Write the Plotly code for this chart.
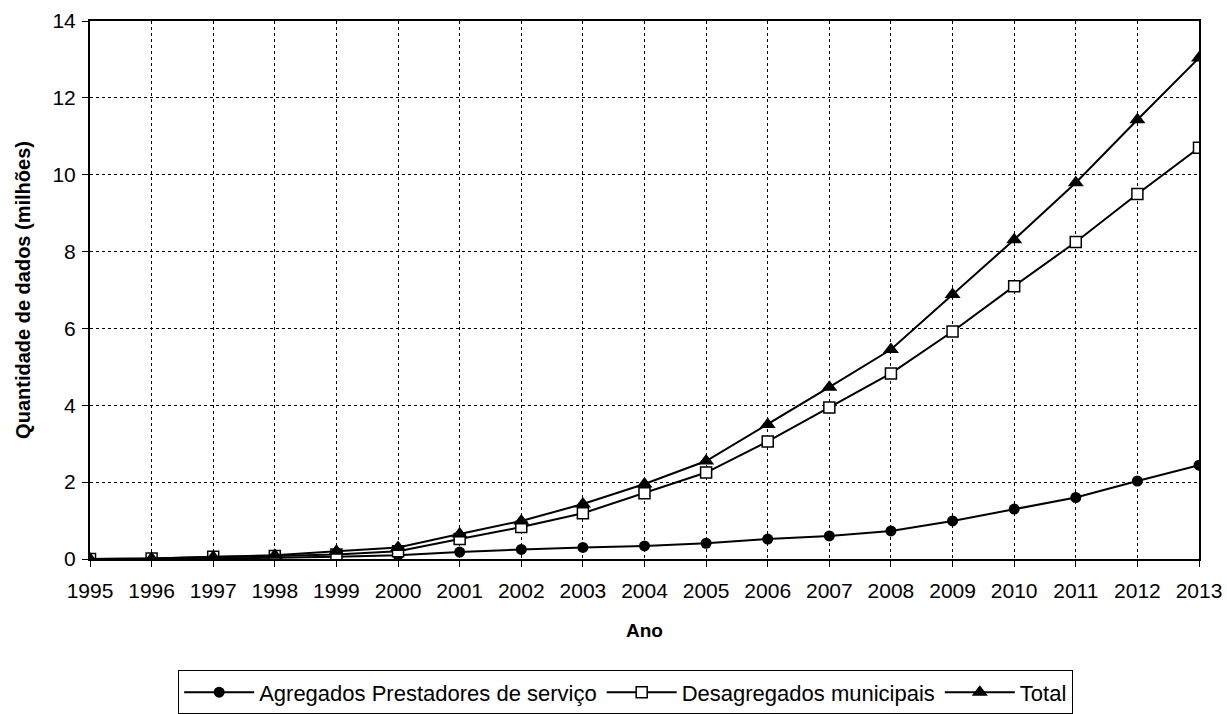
import plotly.graph_objects as go

anos = list(range(1995, 2014))
agregados = [0.0, 0.0, 0.02, 0.03, 0.06, 0.10, 0.18, 0.25, 0.30, 0.34, 0.41, 0.52, 0.60, 0.73, 0.99, 1.30, 1.60, 2.03, 2.44]
desagregados = [0.0, 0.01, 0.06, 0.08, 0.12, 0.20, 0.52, 0.83, 1.19, 1.71, 2.25, 3.06, 3.94, 4.83, 5.92, 7.10, 8.25, 9.50, 10.70]
total = [0.0, 0.01, 0.05, 0.10, 0.20, 0.30, 0.65, 0.99, 1.43, 1.95, 2.55, 3.50, 4.47, 5.45, 6.88, 8.31, 9.79, 11.43, 13.04]

names = ["Agregados Prestadores de serviço", "Desagregados municipais", "Total"]
yticks = [0, 2, 4, 6, 8, 10, 12, 14]

fig = go.Figure()
fig.add_trace(go.Scatter(x=anos, y=agregados, name=names[0], mode="lines+markers",
                         line=dict(color="black", width=2),
                         marker=dict(symbol="circle", size=11, color="black")))
fig.add_trace(go.Scatter(x=anos, y=desagregados, name=names[1], mode="lines+markers",
                         line=dict(color="black", width=2),
                         marker=dict(symbol="square", size=11, color="white",
                                     line=dict(color="black", width=1.5))))
fig.add_trace(go.Scatter(x=anos, y=total, name=names[2], mode="lines+markers",
                         line=dict(color="black", width=2),
                         marker=dict(symbol="triangle-up", size=14, color="black")))

font = "Liberation Sans, Arial, sans-serif"
fig.update_layout(
    width=1227, height=714,
    margin=dict(l=90, r=28, t=21, b=155, autoexpand=False),
    paper_bgcolor="white", plot_bgcolor="white",
    font=dict(family=font, size=21, color="black"),
    showlegend=True,
    legend=dict(orientation="h", x=0.483, xanchor="center", y=-0.207, yanchor="top",
                bordercolor="black", borderwidth=1, font=dict(size=22, family=font),
                itemwidth=70, tracegroupgap=0),
)
fig.update_xaxes(range=[1995, 2013], tickmode="array", tickvals=anos,
                 ticktext=[str(a) for a in anos], automargin=False,
                 ticklabeloverflow="allow",
                 tickfont=dict(size=21, family=font), ticklabelstandoff=6,
                 showline=True, linecolor="black", linewidth=2, mirror=True,
                 ticks="outside", ticklen=6, tickcolor="black",
                 showgrid=True, gridcolor="black", gridwidth=1, griddash="3px,3px",
                 zeroline=False,
                 title=dict(text="<b>Ano</b>", font=dict(size=19, family=font), standoff=22))
fig.update_yaxes(range=[0, 14], tickmode="array", tickvals=yticks, automargin=False,
                 tickfont=dict(size=21, family=font), ticklabelstandoff=2,
                 showline=True, linecolor="black", linewidth=2, mirror=True,
                 ticks="outside", ticklen=6, tickcolor="black",
                 showgrid=True, gridcolor="black", gridwidth=1, griddash="3px,3px",
                 zeroline=False,
                 title=dict(text="<b>Quantidade de dados (milhões)</b>", font=dict(size=20, family=font), standoff=16))

fig.write_html("out.html", config={"displayModeBar": False},
               post_script="document.body.style.margin='0';")
